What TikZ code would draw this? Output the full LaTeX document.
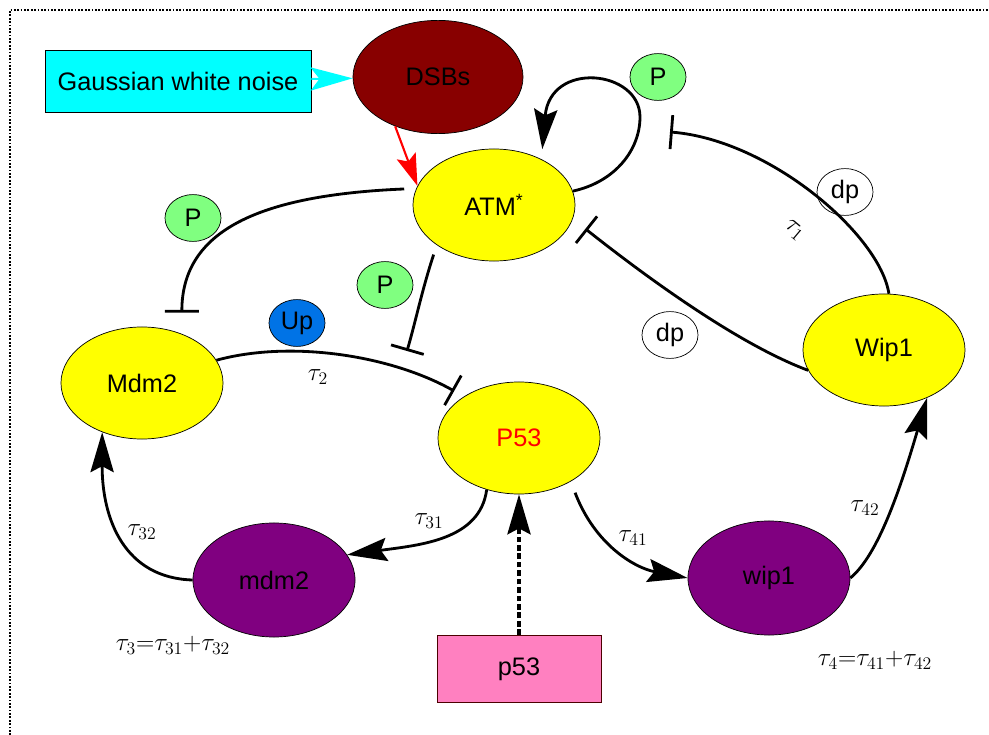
\RequirePackage{fix-cm}
\documentclass[tikz,border=0pt]{standalone}
\usepackage{fontspec}
\setmainfont{Liberation Sans}
\usepackage{tikz}
\usetikzlibrary{shapes.geometric, arrows.meta}
\usepackage{xcolor}

\definecolor{noisecyan}{RGB}{0,255,255}
\definecolor{dsbred}{RGB}{136,0,0}
\definecolor{protyellow}{RGB}{255,255,0}
\definecolor{mrnapurple}{RGB}{128,0,128}
\definecolor{phosgreen}{RGB}{128,255,128}
\definecolor{ubiqblue}{RGB}{0,115,230}
\definecolor{genepink}{RGB}{255,128,192}

\tikzset{
    protein/.style={ellipse, draw=black, line width=0.5pt, fill=protyellow,
        minimum width=4.05cm, minimum height=2.8cm, inner sep=0pt},
    mrna/.style={ellipse, draw=black, line width=0.5pt, fill=mrnapurple,
        minimum width=4.05cm, minimum height=2.85cm, inner sep=0pt},
    tag/.style={ellipse, draw=black, line width=0.5pt,
        minimum width=1.4cm, minimum height=1.17cm, inner sep=0pt},
    activate/.style={line width=2pt, -{Stealth[length=1cm, width=0.58cm, inset=0.15cm]}},
    inhibit/.style={line width=2pt, -{Bar[width=0.85cm]}},
}

\begin{document}
\begin{tikzpicture}[x=0.025cm, y=-0.025cm, font=\fontsize{18}{20}\selectfont]
    \useasboundingbox (0,0) rectangle (989,735);
    % Dotted frame
    \draw[dash pattern=on 1.2pt off 1.2pt, line width=1pt] (10,735) -- (10,10) -- (989,10);

    % Noise and damage
    \node[draw=black, line width=0.6pt, fill=noisecyan, minimum width=6.65cm,
        minimum height=1.55cm, inner sep=0pt] (noise) at (178,81) {Gaussian white noise};
    \node[ellipse, draw=black, line width=0.5pt, fill=dsbred, minimum width=4.25cm,
        minimum height=2.83cm, inner sep=0pt] (DSBs) at (438,77) {DSBs};

    % Proteins
    \node[protein] (ATM) at (494,205) {ATM\textsuperscript{*}};
    \node[protein] (Mdm2) at (142,383) {Mdm2};
    \node[protein] (P53) at (519,438) {\textcolor{red}{P53}};
    \node[protein] (Wip1) at (884,350) {Wip1};

    % mRNAs and gene
    \node[mrna] (mdm2) at (274,580) {mdm2};
    \node[mrna] (wip1) at (769,578) {wip1};
    \node[draw=black!70!red, line width=0.6pt, fill=genepink, minimum width=4.1cm,
        minimum height=1.68cm, inner sep=0pt] (gene) at (519,669) {p53};

    % Modification tags
    \node[tag, fill=phosgreen] (Ploop) at (658,77) {P};
    \node[tag, fill=phosgreen] (Pmdm) at (193,218) {P};
    \node[tag, fill=phosgreen] (Pp53) at (385,285) {P};
    \node[tag, fill=ubiqblue] (Up) at (297,323) {Up};
    \node[tag, fill=white] (dpone) at (845,192) {dp};
    \node[tag, fill=white] (dptwo) at (670,335) {dp};

    % Free ends of the bars
    \coordinate (loopbar) at (670,132);
    \coordinate (upbar) at (407,351);

    % Input
    \draw[noisecyan, line width=1.5pt, -{Stealth[length=1.05cm, width=0.58cm, inset=0.22cm]}] (noise) -- (DSBs);
    \draw[red, line width=1.5pt, -{Stealth[length=0.8cm, width=0.5cm, inset=0.15cm]}] (DSBs.229) -- (ATM.166);

    % ATM loop and its inhibition
    \draw[activate, shorten >=0.25cm] (ATM.10) .. controls (615,182) and (640,150) .. (640,117)
        .. controls (640,70) and (550,60) .. (ATM.44);
    \draw[inhibit] (Wip1.85) .. controls (880,235) and (770,140) .. (loopbar);
    \draw[inhibit, shorten >=0.4cm] (Wip1.195) .. controls (740,345) and (650,280) .. (ATM.350);

    % ATM on Mdm2 and P53
    \draw[inhibit, shorten <=0.3cm, shorten >=0.53cm] (ATM.168) .. controls (260,195) and (182,230) .. (Mdm2.51);
    \draw[inhibit, shorten <=0.25cm] (ATM.215) .. controls (422,290) and (416,320) .. (upbar);
    \draw[inhibit, shorten >=0.28cm] (Mdm2.17) .. controls (290,340) and (390,355) .. (P53.143);

    % Transcription and translation
    \draw[activate] (P53.238) .. controls (480,540) and (420,545) .. (mdm2.19);
    \draw[activate] (mdm2.west) .. controls (125,578) and (102,520) .. (Mdm2.231);
    \draw[activate, shorten <=0.3cm] (P53.-40) .. controls (595,545) and (635,568) .. (wip1.west);
    \draw[activate] (wip1.east) .. controls (878,555) and (900,490) .. (Wip1.-48);
    \draw[activate, line width=2.4pt, dash pattern=on 4pt off 2pt] (gene) -- (P53);

    % Delays
    \node[rotate=-40, inner sep=1pt] (tauone) at (794,230) {$\tau_1$};
    \node (tautwo) at (318,377) {$\tau_2$};
    \node (tauthreeone) at (429,521) {$\tau_{31}$};
    \node (tauthreetwo) at (142,532) {$\tau_{32}$};
    \node (taufourone) at (633,538) {$\tau_{41}$};
    \node (taufourtwo) at (865,508) {$\tau_{42}$};
    \node (tauthree) at (173,645) {$\tau_3{=}\tau_{31}{+}\tau_{32}$};
    \node (taufour) at (875,660) {$\tau_4{=}\tau_{41}{+}\tau_{42}$};
\end{tikzpicture}
\end{document}
